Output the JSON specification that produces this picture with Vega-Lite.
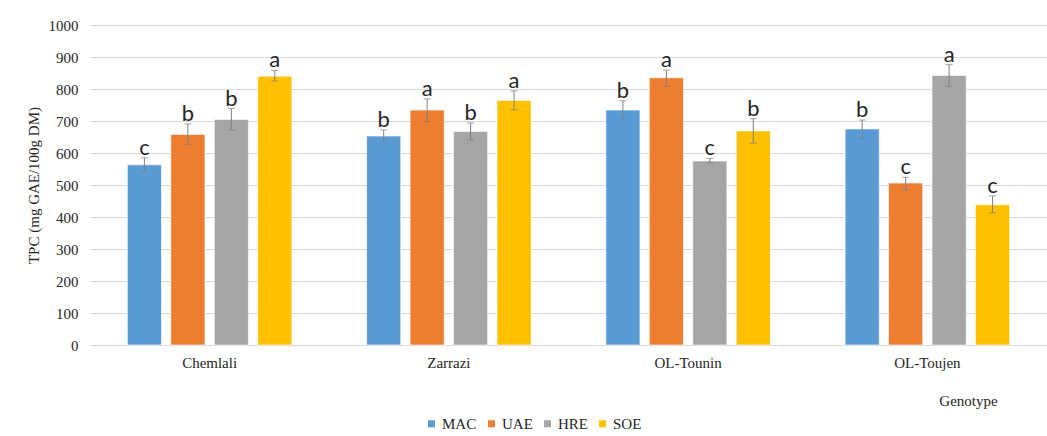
{
  "$schema": "https://vega.github.io/schema/vega-lite/v6.json",
  "autosize": "none",
  "width": 957,
  "height": 320,
  "padding": {"left": 90, "top": 25, "right": 0, "bottom": 91},
  "background": "white",
  "config": {
    "view": {"stroke": null},
    "axisY": {
      "titleFont": "Liberation Serif",
      "titleFontSize": 15,
      "titleFontWeight": "normal",
      "titleColor": "#262626",
      "format": "d",
      "labelOverlap": false,
      "labelFont": "Liberation Serif",
      "labelFontSize": 15,
      "labelColor": "#262626",
      "labelPadding": 12,
      "ticks": false,
      "domain": false,
      "grid": true,
      "gridColor": "#d9d9d9",
      "gridWidth": 1
    }
  },
  "data": {
    "values": [
      {"genotype": "Chemlali", "method": "MAC", "value": 563, "lo": 541, "hi": 585, "letter": "c"},
      {"genotype": "Chemlali", "method": "UAE", "value": 658, "lo": 627, "hi": 691, "letter": "b"},
      {"genotype": "Chemlali", "method": "HRE", "value": 705, "lo": 672, "hi": 739, "letter": "b"},
      {"genotype": "Chemlali", "method": "SOE", "value": 840, "lo": 825, "hi": 858, "letter": "a"},
      {"genotype": "Zarrazi", "method": "MAC", "value": 653, "lo": 634, "hi": 672, "letter": "b"},
      {"genotype": "Zarrazi", "method": "UAE", "value": 734, "lo": 698, "hi": 769, "letter": "a"},
      {"genotype": "Zarrazi", "method": "HRE", "value": 667, "lo": 641, "hi": 694, "letter": "b"},
      {"genotype": "Zarrazi", "method": "SOE", "value": 764, "lo": 735, "hi": 794, "letter": "a"},
      {"genotype": "OL-Tounin", "method": "MAC", "value": 734, "lo": 705, "hi": 763, "letter": "b"},
      {"genotype": "OL-Tounin", "method": "UAE", "value": 835, "lo": 808, "hi": 859, "letter": "a"},
      {"genotype": "OL-Tounin", "method": "HRE", "value": 575, "lo": 569, "hi": 583, "letter": "c"},
      {"genotype": "OL-Tounin", "method": "SOE", "value": 669, "lo": 631, "hi": 707, "letter": "b"},
      {"genotype": "OL-Toujen", "method": "MAC", "value": 675, "lo": 645, "hi": 703, "letter": "b"},
      {"genotype": "OL-Toujen", "method": "UAE", "value": 506, "lo": 485, "hi": 524, "letter": "c"},
      {"genotype": "OL-Toujen", "method": "HRE", "value": 842, "lo": 808, "hi": 876, "letter": "a"},
      {"genotype": "OL-Toujen", "method": "SOE", "value": 438, "lo": 413, "hi": 466, "letter": "c"}
    ]
  },
  "encoding": {
    "x": {
      "field": "genotype",
      "type": "nominal",
      "sort": ["Chemlali", "Zarrazi", "OL-Tounin", "OL-Toujen"],
      "scale": {"paddingInner": 0.276, "paddingOuter": 0.138},
      "axis": {
        "title": "Genotype",
        "titleX": 878,
        "titleY": 55,
        "titleAlign": "center",
        "titleBaseline": "middle",
        "titleFont": "Liberation Serif",
        "titleFontSize": 15,
        "titleFontWeight": "normal",
        "titleColor": "#262626",
        "labelAngle": 0,
        "labelFont": "Liberation Serif",
        "labelFontSize": 15,
        "labelColor": "#262626",
        "labelPadding": 10,
        "ticks": false,
        "domain": true,
        "domainColor": "#d9d9d9",
        "grid": false
      }
    },
    "xOffset": {
      "field": "method",
      "type": "nominal",
      "sort": ["MAC", "UAE", "HRE", "SOE"],
      "scale": {"paddingInner": 0.215, "paddingOuter": 0.1}
    }
  },
  "layer": [
    {
      "mark": {"type": "bar", "stroke": "white", "strokeOpacity": 0.6, "strokeWidth": 1},
      "encoding": {
        "y": {
          "field": "value",
          "type": "quantitative",
          "scale": {"domain": [0, 1000]},
          "axis": {
            "title": "TPC (mg GAE/100g DM)",
            "titleX": -57,
            "titleY": 160,
            "titleAlign": "center",
            "titleBaseline": "middle",
            "tickCount": 10
          }
        },
        "color": {
          "field": "method",
          "type": "nominal",
          "sort": ["MAC", "UAE", "HRE", "SOE"],
          "scale": {"domain": ["MAC", "UAE", "HRE", "SOE"], "range": ["#5B9BD5", "#ED7D31", "#A5A5A5", "#FFC000"]},
          "legend": {
            "title": null,
            "orient": "none",
            "legendX": 334,
            "legendY": 391,
            "direction": "horizontal",
            "symbolType": "square",
            "symbolSize": 49,
            "symbolStrokeWidth": 0,
            "labelFont": "Liberation Serif",
            "labelFontSize": 15,
            "labelColor": "#262626",
            "labelOffset": 3,
            "columnPadding": 7
          }
        }
      }
    },
    {
      "mark": {"type": "rule", "color": "#7f7f7f", "strokeWidth": 1},
      "encoding": {
        "y": {"field": "lo", "type": "quantitative"},
        "y2": {"field": "hi"}
      }
    },
    {
      "mark": {"type": "tick", "color": "#7f7f7f", "size": 7, "thickness": 1, "orient": "horizontal"},
      "encoding": {"y": {"field": "lo", "type": "quantitative"}}
    },
    {
      "mark": {"type": "tick", "color": "#7f7f7f", "size": 7, "thickness": 1, "orient": "horizontal"},
      "encoding": {"y": {"field": "hi", "type": "quantitative"}}
    },
    {
      "mark": {"type": "text", "font": "Lato", "fontSize": 22, "color": "#262626", "baseline": "alphabetic", "dy": -3},
      "encoding": {
        "y": {"field": "hi", "type": "quantitative"},
        "text": {"field": "letter"}
      }
    }
  ]
}
